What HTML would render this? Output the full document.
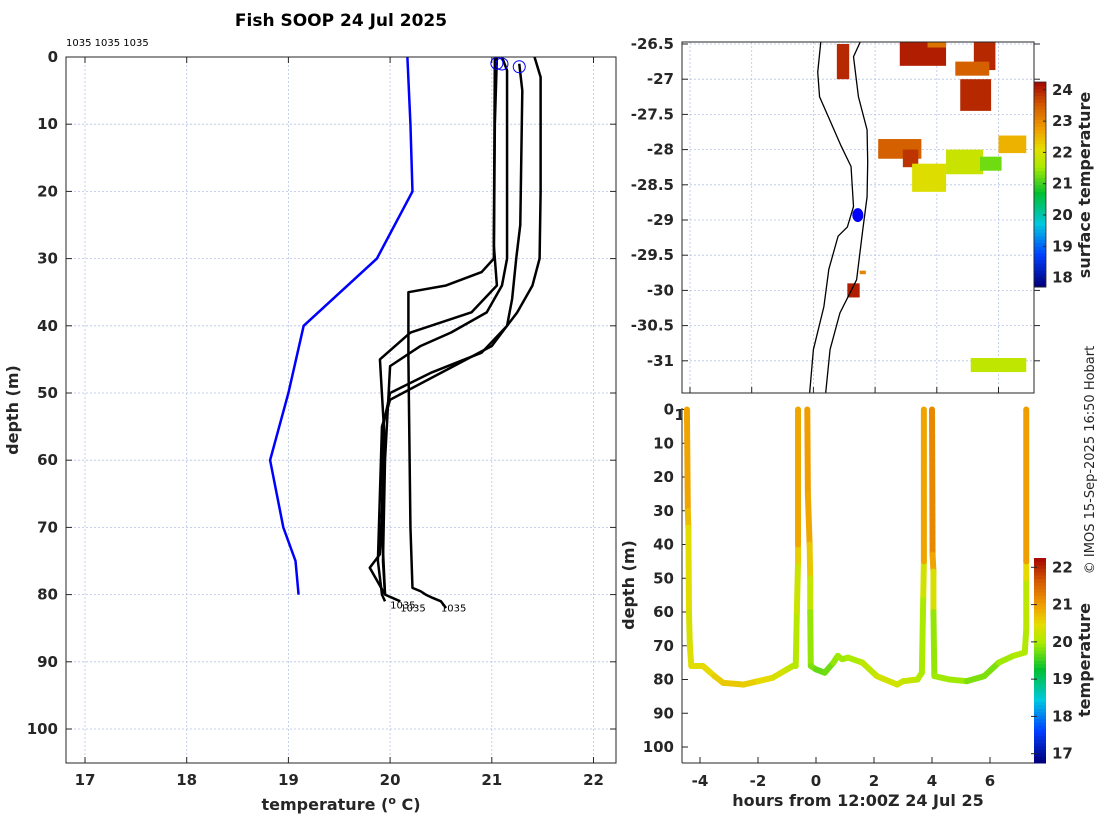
<!DOCTYPE html>
<html><head><meta charset="utf-8"><style>
html,body{margin:0;padding:0;background:#fff;}
svg{display:block;font-family:"DejaVu Sans","Liberation Sans",sans-serif;}
.tk{font-size:15px;font-weight:bold;fill:#262626;}
.lab{font-size:16px;font-weight:bold;fill:#262626;}
</style></head><body>
<svg id="fig" width="1100" height="820" viewBox="0 0 1100 820" xmlns="http://www.w3.org/2000/svg">
<rect x="0" y="0" width="1100" height="820" fill="#fff"/>
<g id="left"></g>
<g id="map"></g>
<g id="sect"></g>
<text x="341" y="26" text-anchor="middle" font-size="17" font-weight="bold" fill="#000">Fish SOOP 24 Jul 2025</text>
<text x="66" y="46" font-size="10" fill="#000">1035 1035 1035</text>
<text transform="translate(1094,460) rotate(-90)" text-anchor="middle" font-size="13" fill="#262626">© IMOS 15-Sep-2025 16:50 Hobart</text>
</svg>
<script>
// ---------- DATA ----------
const tempTicks = [17,18,19,20,21,22];
const depthTicks = [0,10,20,30,40,50,60,70,80,90,100];
const climTemp = [20.17,20.2,20.22,19.87,19.15,19.0,18.82,18.95,19.07,19.1];
const climDepth = [0,10,20,30,40,50,60,70,75,80];
const prof1Temp = [21.42,21.48,21.48,21.47,21.4,21.25,21.0,20.5,20.0,19.92,19.9,19.88,19.92,19.95];
const prof1Depth = [0,3,20,30,34,38,43,47,51,55,65,75,80,81];
const prof2Temp = [21.27,21.3,21.28,21.24,21.2,21.15,20.9,20.4,20.0,19.93,19.92,19.95];
const prof2Depth = [1,5,25,30,36,40,44,47,50,55,70,80];
const prof3Temp = [21.05,21.03,21.02,20.9,20.55,20.18,20.18,20.2,20.22,20.3,20.35,20.42,20.5,20.55];
const prof3Depth = [0,10,30,32,34,35,45,70,79,79.5,80,80.5,81,82];
const prof4Temp = [21.1,21.15,21.15,21.1,20.95,20.6,20.3,20.0,19.95,19.93,19.95];
const prof4Depth = [0,2,30,34,38,41,43,46,60,75,80];
const prof5Temp = [21.03,21.02,21.05,20.8,20.2,19.9,19.95,19.9,19.8,19.95,20.1];
const prof5Depth = [0,28,34,38,41,45,58,74,76,80,81];
const bottomLabelTemp = [20.0,20.1,20.5];
const bottomLabelDepth = [81,81.5,81.5];
const circleTemp = [21.05,21.1,21.27];
const circleDepth = [0.5,0.6,1];

const lonTicks = [151,152,153,154,155,156];
const latTicks = [-26.5,-27,-27.5,-28,-28.5,-29,-29.5,-30,-30.5,-31];
const coastWLon = [153.12,153.07,153.1,153.25,153.45,153.61,153.65,153.55,153.4,153.25,153.17,153.0,152.94];
const coastWLat = [-26.47,-26.9,-27.25,-27.55,-27.95,-28.24,-28.81,-29.1,-29.23,-29.7,-30.23,-30.84,-31.45];
const coastELon = [153.76,153.65,153.73,153.87,153.88,153.87,153.8,153.7,153.43,153.27,153.2];
const coastELat = [-26.47,-26.68,-27.25,-27.72,-28.18,-28.67,-29.14,-29.85,-30.32,-30.84,-31.45];
const sstLon = [154.4,154.85,155.6,155.3,155.38,153.38,154.05,154.45,154.6,155.15,155.7,156.0,155.55,153.55,153.75];
const sstLat = [-26.47,-26.47,-26.47,-26.75,-27.0,-26.5,-27.85,-28.0,-28.2,-28.0,-28.1,-27.8,-30.96,-29.9,-29.72];
const sstW = [0.75,0.3,0.35,0.55,0.5,0.2,0.7,0.25,0.55,0.6,0.35,0.45,0.9,0.2,0.1];
const sstH = [0.34,0.08,0.4,0.2,0.45,0.5,0.28,0.25,0.4,0.35,0.2,0.25,0.2,0.2,0.05];
const sstTemp = [24.0,23.2,23.9,23.4,23.9,23.9,23.4,23.8,22.0,21.8,21.2,22.5,21.7,24.0,23.0];
const shipLon = [153.72];
const shipLat = [-28.93];
const mapCbTicks = [18,19,20,21,22,23,24];

const hourTicks = [-4,-2,0,2,4,6];
const secDepthTicks = [0,10,20,30,40,50,60,70,80,90,100];
const tr1Hour = [-4.45,-4.42,-4.4,-4.38,-4.35,-4.3,-3.9,-3.5,-3.2,-2.5,-2.0,-1.5,-1.0,-0.8,-0.7,-0.66,-0.62,-0.62,-0.62];
const tr1Depth = [0,30,35,60,70,76,76,79,81,81.5,80.5,79.5,77,76,76,60,45,40,0];
const tr1Temp = [20.9,20.9,20.5,20.3,20.3,20.4,20.4,20.5,20.6,20.6,20.5,20.4,20.2,20.1,20.0,20.1,20.3,20.8,20.95];
const tr2Hour = [-0.3,-0.28,-0.22,-0.2,-0.2,-0.18,0,0.3,0.6,0.75,0.9,1.1,1.6,2.1,2.8,3.0,3.5,3.65,3.7,3.72,3.72];
const tr2Depth = [0,25,40,50,60,76,77,78,75,73,74,73.5,75,79,81.5,80.5,80,78,55,45,0];
const tr2Temp = [20.95,20.95,20.8,20.4,19.9,19.8,19.7,19.6,19.8,19.9,19.9,19.9,20.0,20.2,20.3,20.2,20.1,20.0,19.9,20.6,21.2];
const tr3Hour = [4.0,4.02,4.05,4.05,4.08,4.6,5.2,5.8,6.3,6.8,7.2,7.25,7.25,7.25,7.25];
const tr3Depth = [0,43,48,60,79,80,80.5,79,75,73,72,65,50,45,0];
const tr3Temp = [21.2,21.1,20.7,19.9,19.8,20.0,19.8,19.7,19.8,20.0,20.0,20.0,20.2,20.7,21.2];
const secCbTicks = [17,18,19,20,21,22];

// ---------- helpers ----------
const NS = "http://www.w3.org/2000/svg";
function mk(parent, tag, attrs){const e=document.createElementNS(NS,tag);for(const k in attrs)e.setAttribute(k,attrs[k]);parent.appendChild(e);return e;}
function cmap(f){
  const st=[[0,[0,0,127]],[0.15,[0,64,255]],[0.3,[0,200,224]],[0.45,[0,192,48]],[0.58,[170,235,0]],[0.67,[230,220,0]],[0.76,[240,160,0]],[0.88,[210,90,0]],[1,[160,0,0]]];
  f=Math.max(0,Math.min(1,f));
  for(let i=1;i<st.length;i++){if(f<=st[i][0]){const a=st[i-1],b=st[i];const u=(f-a[0])/(b[0]-a[0]);const c=a[1].map((v,j)=>Math.round(v+(b[1][j]-v)*u));return `rgb(${c[0]},${c[1]},${c[2]})`;}}
  return "rgb(160,0,0)";
}
const gridStyle={stroke:"#b8c4e8","stroke-width":0.8,"stroke-dasharray":"2,2"};

// ---------- LEFT profile panel ----------
(function(){
  const g=document.getElementById('left');
  const L=66,R=616,T=57,B=763;
  const xS=t=>85+(t-17)*101.7, yS=d=>T+d*6.72;
  mk(g,'rect',{x:L,y:T,width:R-L,height:B-T,fill:'#fff'});
  tempTicks.forEach(t=>{const l=mk(g,'line',Object.assign({x1:xS(t),x2:xS(t),y1:T,y2:B},gridStyle));
    
    mk(g,'line',{x1:xS(t),x2:xS(t),y1:B,y2:B-6,stroke:'#262626'});mk(g,'line',{x1:xS(t),x2:xS(t),y1:T,y2:T+6,stroke:'#262626'});
    const tx=mk(g,'text',{x:xS(t),y:B+22,'text-anchor':'middle',class:'tk'});tx.textContent=t;
    });
  depthTicks.forEach(d=>{const l=mk(g,'line',Object.assign({x1:L,x2:R,y1:yS(d),y2:yS(d)},gridStyle));
    
    mk(g,'line',{x1:L,x2:L+6,y1:yS(d),y2:yS(d),stroke:'#262626'});mk(g,'line',{x1:R,x2:R-6,y1:yS(d),y2:yS(d),stroke:'#262626'});
    const tx=mk(g,'text',{x:L-8,y:yS(d)+5,'text-anchor':'end',class:'tk'});tx.textContent=d;
    });
  const cl=mk(g,'polyline',{points:climTemp.map((t,i)=>xS(t)+','+yS(climDepth[i])).join(' '),fill:'none',stroke:'#0000ff','stroke-width':2.5});
  
  [[prof1Temp,prof1Depth],[prof2Temp,prof2Depth],[prof3Temp,prof3Depth],[prof4Temp,prof4Depth],[prof5Temp,prof5Depth]].forEach((p,k)=>{
    const pl=mk(g,'polyline',{points:p[0].map((t,i)=>xS(t)+','+yS(p[1][i])).join(' '),fill:'none',stroke:'#000','stroke-width':2.5,'stroke-linejoin':'round'});
    });
  circleTemp.forEach((t,i)=>{const c=mk(g,'circle',{cx:xS(t),cy:yS(circleDepth[i])+3,r:6,fill:'none',stroke:'#0000ff','stroke-width':1});
    });
  bottomLabelTemp.forEach((t,i)=>{const tx=mk(g,'text',{x:xS(t),y:yS(bottomLabelDepth[i])+7,'font-size':10,fill:'#000'});tx.textContent='1035';
    });
  mk(g,'rect',{x:L,y:T,width:R-L,height:B-T,fill:'none',stroke:'#262626','stroke-width':1});
  const xl=mk(g,'text',{x:341,y:810,'text-anchor':'middle',class:'lab'});xl.innerHTML='temperature (<tspan font-size="11" dy="-6">o</tspan><tspan dy="6"> C)</tspan>';
  
  const yl=mk(g,'text',{transform:'translate(18,410) rotate(-90)','text-anchor':'middle',class:'lab'});yl.textContent='depth (m)';
  
})();

// ---------- MAP panel ----------
(function(){
  const g=document.getElementById('map');
  const L=682,R=1034,T=42,B=393;
  const xS=lo=>690+(lo-151)*61.7, yS=la=>44+(-26.5-la)*70.4;
  const cmin=17.7,cmax=24.25;
  mk(g,'rect',{x:L,y:T,width:R-L,height:B-T,fill:'#fff'});
  lonTicks.forEach(lo=>{const l=mk(g,'line',Object.assign({x1:xS(lo),x2:xS(lo),y1:T,y2:B},gridStyle));
    
    mk(g,'line',{x1:xS(lo),x2:xS(lo),y1:B,y2:B-6,stroke:'#262626'});
    const tx=mk(g,'text',{x:xS(lo),y:420,'text-anchor':'middle',class:'tk'});tx.textContent=lo;
    });
  latTicks.forEach(la=>{const l=mk(g,'line',Object.assign({x1:L,x2:R,y1:yS(la),y2:yS(la)},gridStyle));
    
    mk(g,'line',{x1:L,x2:L+6,y1:yS(la),y2:yS(la),stroke:'#262626'});mk(g,'line',{x1:R,x2:R+6,y1:yS(la),y2:yS(la),stroke:'#262626'});
    const tx=mk(g,'text',{x:L-8,y:yS(la)+5,'text-anchor':'end',class:'tk'});tx.textContent=la;
    });
  sstLon.forEach((lo,i)=>{const r=mk(g,'rect',{x:xS(lo),y:yS(sstLat[i]),width:sstW[i]*61.7,height:sstH[i]*70.4,fill:cmap((sstTemp[i]-cmin)/(cmax-cmin))});
    });
  const w=mk(g,'polyline',{points:coastWLon.map((lo,i)=>xS(lo)+','+yS(coastWLat[i])).join(' '),fill:'none',stroke:'#000','stroke-width':1.3});
  
  const e=mk(g,'polyline',{points:coastELon.map((lo,i)=>xS(lo)+','+yS(coastELat[i])).join(' '),fill:'none',stroke:'#000','stroke-width':1.3});
  
  shipLon.forEach((lo,i)=>{const c=mk(g,'ellipse',{cx:xS(lo),cy:yS(shipLat[i]),rx:5.5,ry:7,fill:'#0000ff'});
    });
  mk(g,'rect',{x:L,y:T,width:R-L,height:B-T,fill:'none',stroke:'#262626','stroke-width':1});
  const cT=82,cB=287,cx=1034,cw=12;
  const cy=v=>cB-(v-cmin)/(cmax-cmin)*(cB-cT);
  const cb=mk(g,'g',{});
  for(let i=0;i<60;i++){const v0=cmin+(cmax-cmin)*i/60,v1=cmin+(cmax-cmin)*(i+1)/60;
    mk(cb,'rect',{x:cx,y:cy(v1),width:cw,height:cy(v0)-cy(v1)+0.5,fill:cmap((v0-cmin)/(cmax-cmin))});}
  mk(cb,'rect',{x:cx,y:cT,width:cw,height:cB-cT,fill:'none',stroke:'#262626','stroke-width':0.8});
  mapCbTicks.forEach(v=>{mk(cb,'line',{x1:cx+cw-3,x2:cx+cw,y1:cy(v),y2:cy(v),stroke:'#262626'});
    const tx=mk(cb,'text',{x:1052,y:cy(v)+5,class:'tk','font-size':14});tx.textContent=v;
    });
  const t=mk(g,'text',{transform:'translate(1090,185) rotate(-90)','text-anchor':'middle',class:'lab'});t.textContent='surface temperature';
  
})();

// ---------- SECTION panel ----------
(function(){
  const g=document.getElementById('sect');
  const L=682,R=1034,T=408,B=763;
  const xS=h=>816+h*29.0, yS=d=>409.5+d*3.375;
  const cmin=16.75,cmax=22.25;
  mk(g,'rect',{x:L,y:T,width:R-L,height:B-T,fill:'#fff'});
  mk(g,'rect',{x:L,y:T,width:R-L+14,height:2,fill:'#fff'});
  hourTicks.forEach(h=>{mk(g,'line',{x1:xS(h),x2:xS(h),y1:B,y2:B-6,stroke:'#262626'});
    const tx=mk(g,'text',{x:xS(h),y:B+23,'text-anchor':'middle',class:'tk'});tx.textContent=h;
    });
  secDepthTicks.forEach(d=>{mk(g,'line',{x1:L,x2:L+6,y1:yS(d),y2:yS(d),stroke:'#262626'});
    const tx=mk(g,'text',{x:L-8,y:yS(d)+5,'text-anchor':'end',class:'tk'});tx.textContent=d;
    });
  [[tr1Hour,tr1Depth,tr1Temp],[tr2Hour,tr2Depth,tr2Temp],[tr3Hour,tr3Depth,tr3Temp]].forEach((tr,k)=>{
    const tg=mk(g,'g',{});
    for(let i=0;i<tr[0].length-1;i++){
      mk(tg,'line',{x1:xS(tr[0][i]),y1:yS(tr[1][i]),x2:xS(tr[0][i+1]),y2:yS(tr[1][i+1]),stroke:cmap(((tr[2][i]+tr[2][i+1])/2-cmin)/(cmax-cmin)),'stroke-width':6,'stroke-linecap':'round','stroke-dasharray':'5,1'});
    }});
  mk(g,'line',{x1:L,x2:L,y1:T,y2:B,stroke:'#262626'});
  mk(g,'line',{x1:L,x2:R,y1:B,y2:B,stroke:'#262626'});
  const cT=558,cB=763,cx=1034,cw=12;
  const cy=v=>cB-(v-cmin)/(cmax-cmin)*(cB-cT);
  const cb=mk(g,'g',{});
  for(let i=0;i<60;i++){const v0=cmin+(cmax-cmin)*i/60,v1=cmin+(cmax-cmin)*(i+1)/60;
    mk(cb,'rect',{x:cx,y:cy(v1),width:cw,height:cy(v0)-cy(v1)+0.5,fill:cmap((v0-cmin)/(cmax-cmin))});}
  secCbTicks.forEach(v=>{mk(cb,'line',{x1:cx-3,x2:cx+3,y1:cy(v),y2:cy(v),stroke:'#262626'});
    const tx=mk(cb,'text',{x:1052,y:cy(v)+5,class:'tk','font-size':14});tx.textContent=v;
    });
  const t=mk(g,'text',{transform:'translate(1090,660) rotate(-90)','text-anchor':'middle',class:'lab'});t.textContent='temperature';
  
  const xl=mk(g,'text',{x:858,y:806,'text-anchor':'middle',class:'lab'});xl.textContent='hours from 12:00Z 24 Jul 25';
  
  const yl=mk(g,'text',{transform:'translate(634,585) rotate(-90)','text-anchor':'middle',class:'lab'});yl.textContent='depth (m)';
  
})();
</script>
</body></html>
